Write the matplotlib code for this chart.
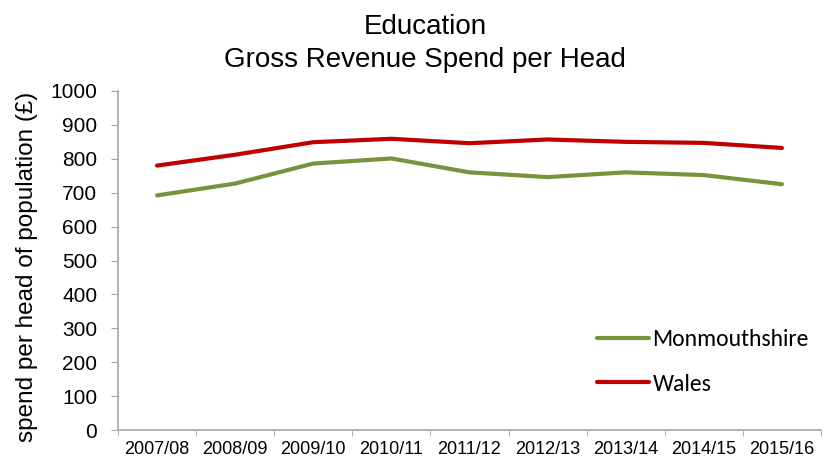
import matplotlib
matplotlib.use("Agg")
import matplotlib.pyplot as plt
import numpy as np

years = ["2007/08", "2008/09", "2009/10", "2010/11", "2011/12",
         "2012/13", "2013/14", "2014/15", "2015/16"]
monmouthshire = [692, 727, 786, 801, 760, 746, 760, 752, 725]
wales = [780, 812, 849, 859, 846, 857, 850, 847, 832]
yticks = list(range(0, 1001, 100))

plt.rcParams['font.family'] = ['Liberation Sans', 'DejaVu Sans']

fig = plt.figure(figsize=(8.34, 4.62), dpi=100)
ax = fig.add_axes([118/834, 32/462, (821-118)/834, (430-91)/462])

x = np.arange(len(years))
ax.plot(x, monmouthshire, color="#77933C", lw=3, label="Monmouthshire", solid_capstyle="round")
ax.plot(x, wales, color="#C00000", lw=3, label="Wales", solid_capstyle="round")

ax.set_xlim(-0.5, len(years) - 0.5)
ax.set_ylim(0, 1000)
ax.set_yticks(yticks)
ax.set_yticklabels([str(v) for v in yticks], fontsize=15)
ax.set_xticks(x)
ax.set_xticklabels(years, fontsize=13)
ax.tick_params(axis="x", which="major", length=0, pad=8)
ax.set_xticks(np.arange(-0.5, len(years), 1), minor=True)
ax.tick_params(axis="x", which="minor", length=4.3, color="#A6A6A6", direction="out")
ax.tick_params(axis="y", length=5, color="#A6A6A6", direction="out", pad=10)

for s in ["top", "right"]:
    ax.spines[s].set_visible(False)
for s in ["left", "bottom"]:
    ax.spines[s].set_color("#A6A6A6")
    ax.spines[s].set_linewidth(1.2)

ax.set_ylabel("spend per head of population (£)", fontsize=17.5)
ax.yaxis.set_label_coords((38 - 118) / 703, 0.482)

fig.text(0.51, 1 - 34/462, "Education", fontsize=20, ha="center", va="baseline")
fig.text(0.51, 1 - 67/462, "Gross Revenue Spend per Head", fontsize=20, ha="center", va="baseline")

leg = ax.legend(loc="lower left", bbox_to_anchor=(0.651, 0.042), frameon=False,
                handlelength=2.2, handletextpad=0.15, labelspacing=1.0,
                prop={"family": ["Carlito", "Lato", "DejaVu Sans"], "size": 17})

fig.savefig("out.png", dpi=100)
